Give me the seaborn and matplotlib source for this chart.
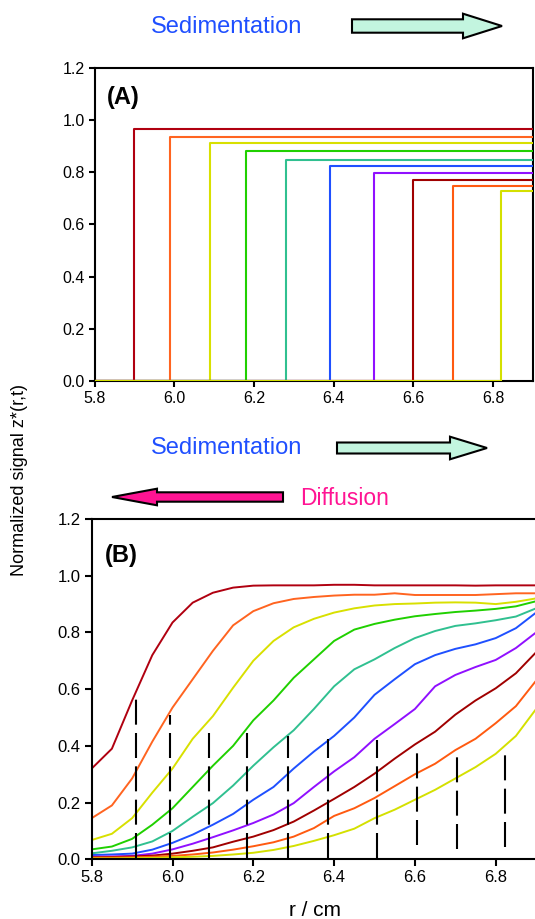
import numpy as np
import pandas as pd
import matplotlib
matplotlib.use("Agg")
import matplotlib.pyplot as plt
import seaborn as sns
from matplotlib.patches import Polygon

# ---------------- data ----------------
runs = ["t1", "t2", "t3", "t4", "t5", "t6", "t7", "t8", "t9", "t10"]
colors = ["#b00010", "#ff6420", "#d8e000", "#20d000", "#30c090",
          "#1f50ff", "#9010ff", "#a00000", "#ff5a10", "#d4e000"]

# Panel A: ideal sharp boundaries
boundaries = [5.90, 5.99, 6.09, 6.18, 6.28, 6.39, 6.50, 6.60, 6.70, 6.82]
plateaus = [0.966, 0.936, 0.912, 0.881, 0.849, 0.826, 0.796, 0.772, 0.749, 0.728]
r_min, r_max = 5.8, 6.9

# Panel B: diffusing boundaries
r_grid = [5.80, 5.85, 5.90, 5.95, 6.00, 6.05, 6.10, 6.15, 6.20, 6.25, 6.30, 6.35,
          6.40, 6.45, 6.50, 6.55, 6.60, 6.65, 6.70, 6.75, 6.80, 6.85, 6.90]
curve_1 = [0.32, 0.39, 0.56, 0.72, 0.835, 0.905, 0.94, 0.958, 0.965, 0.966, 0.966, 0.966,
           0.968, 0.968, 0.966, 0.966, 0.966, 0.966, 0.966, 0.965, 0.966, 0.966, 0.966]
curve_2 = [0.145, 0.19, 0.285, 0.415, 0.535, 0.635, 0.735, 0.825, 0.875, 0.903, 0.918, 0.925,
           0.930, 0.933, 0.933, 0.938, 0.932, 0.932, 0.932, 0.932, 0.935, 0.938, 0.938]
curve_3 = [0.068, 0.09, 0.145, 0.235, 0.32, 0.425, 0.505, 0.605, 0.70, 0.77, 0.818, 0.848,
           0.87, 0.885, 0.895, 0.90, 0.902, 0.905, 0.906, 0.905, 0.90, 0.908, 0.92]
curve_4 = [0.035, 0.045, 0.072, 0.122, 0.18, 0.255, 0.33, 0.40, 0.49, 0.56, 0.64, 0.705,
           0.77, 0.81, 0.83, 0.845, 0.857, 0.865, 0.872, 0.877, 0.883, 0.892, 0.91]
curve_5 = [0.021, 0.03, 0.042, 0.063, 0.10, 0.15, 0.198, 0.26, 0.33, 0.395, 0.455, 0.53,
           0.61, 0.67, 0.705, 0.745, 0.78, 0.805, 0.823, 0.832, 0.843, 0.856, 0.885]
curve_6 = [0.015, 0.017, 0.02, 0.034, 0.058, 0.087, 0.122, 0.16, 0.21, 0.255, 0.32, 0.38,
           0.435, 0.50, 0.58, 0.635, 0.688, 0.72, 0.742, 0.758, 0.78, 0.815, 0.87]
curve_7 = [0.009, 0.01, 0.012, 0.02, 0.035, 0.055, 0.078, 0.102, 0.128, 0.158, 0.198, 0.255,
           0.31, 0.36, 0.425, 0.477, 0.53, 0.61, 0.65, 0.678, 0.703, 0.745, 0.80]
curve_8 = [0.007, 0.008, 0.01, 0.013, 0.02, 0.03, 0.042, 0.062, 0.08, 0.103, 0.133, 0.172,
           0.213, 0.255, 0.302, 0.355, 0.405, 0.45, 0.51, 0.56, 0.603, 0.656, 0.73]
curve_9 = [0.006, 0.006, 0.007, 0.009, 0.012, 0.017, 0.024, 0.034, 0.046, 0.06, 0.08, 0.11,
           0.153, 0.18, 0.216, 0.258, 0.30, 0.337, 0.385, 0.425, 0.48, 0.54, 0.63]
curve_10 = [0.003, 0.003, 0.004, 0.005, 0.007, 0.009, 0.012, 0.017, 0.023, 0.033, 0.047, 0.065,
            0.085, 0.108, 0.145, 0.175, 0.21, 0.245, 0.285, 0.325, 0.372, 0.435, 0.53]
curves = [curve_1, curve_2, curve_3, curve_4, curve_5,
          curve_6, curve_7, curve_8, curve_9, curve_10]

# dashed boundary markers in panel B
dash_pos = [5.91, 5.995, 6.09, 6.185, 6.285, 6.385, 6.505, 6.605, 6.705, 6.822]
dash_top = [0.57, 0.51, 0.47, 0.448, 0.435, 0.424, 0.42, 0.40, 0.386, 0.39]
dash_bottom = [0.005, 0.005, 0.005, 0.005, 0.005, 0.005, 0.005, 0.05, 0.036, 0.045]

x_ticks = [5.8, 6.0, 6.2, 6.4, 6.6, 6.8]
x_labels = ["5.8", "6.0", "6.2", "6.4", "6.6", "6.8"]
y_ticks = [0.0, 0.2, 0.4, 0.6, 0.8, 1.0, 1.2]
y_labels = ["0.0", "0.2", "0.4", "0.6", "0.8", "1.0", "1.2"]

# ---------------- tables ----------------
rows_a = []
for run, b, h in zip(runs, boundaries, plateaus):
    for rr, zz in [(r_min, 0.0), (b, 0.0), (b, h), (r_max, h)]:
        rows_a.append({"run": run, "r": rr, "z": zz})
df_a = pd.DataFrame(rows_a)

rows_b = []
for run, c in zip(runs, curves):
    for rr, zz in zip(r_grid, c):
        rows_b.append({"run": run, "r": rr, "z": zz})
df_b = pd.DataFrame(rows_b)

# ---------------- figure ----------------
sns.set_style("ticks")
plt.rcParams["font.family"] = ["Liberation Sans", "DejaVu Sans"]
plt.rcParams["axes.linewidth"] = 1.5
plt.rcParams["text.color"] = "black"
plt.rcParams["axes.labelcolor"] = "black"
plt.rcParams["xtick.color"] = "black"
plt.rcParams["ytick.color"] = "black"

W, H = 535, 919
fig = plt.figure(figsize=(W / 100, H / 100), dpi=100)


def px_axes(left, top, right, bottom):
    return [left / W, 1 - bottom / H, (right - left) / W, (bottom - top) / H]


ax_a = fig.add_axes(px_axes(94.5, 68, 533, 381))
ax_b = fig.add_axes(px_axes(91.7, 519, 536.1, 859.3))

sns.lineplot(data=df_a, x="r", y="z", hue="run", hue_order=runs, palette=colors,
             sort=False, estimator=None, legend=False, linewidth=1.5, ax=ax_a,
             zorder=3)
sns.lineplot(data=df_b, x="r", y="z", hue="run", hue_order=runs, palette=colors,
             sort=True, estimator=None, legend=False, linewidth=1.4, ax=ax_b)

ax_b.vlines(dash_pos, dash_bottom, dash_top, colors="black", linewidth=1.5,
            linestyles=(0, (12, 4)), zorder=3)

for ax, fs, tl in [(ax_a, 11.5, 4), (ax_b, 12, 5)]:
    ax.set_xlim(r_min, r_max)
    ax.set_ylim(0, 1.2)
    ax.set_xticks(x_ticks)
    ax.set_xticklabels(x_labels)
    ax.set_yticks(y_ticks)
    ax.set_yticklabels(y_labels)
    ax.set_xlabel("")
    ax.set_ylabel("")
    ax.tick_params(direction="out", length=tl, width=1.5, labelsize=fs,
                   colors="black", pad=3)
    for s in ax.spines.values():
        s.set_color("black")
        s.set_linewidth(1.5)

ax_b.spines["right"].set_visible(False)

# panel letters
fig.text(107 / W, 1 - 104 / H, "(A)", fontsize=17, fontweight="bold", ha="left",
         va="baseline", color="black")
fig.text(105 / W, 1 - 561.7 / H, "(B)", fontsize=17, fontweight="bold", ha="left",
         va="baseline", color="black")

# axis labels
fig.text(20 / W, 1 - 480 / H, "Normalized signal z*(r,t)", rotation=90,
         fontsize=13, ha="center", va="center", color="black")
fig.text(315 / W, 1 - 916 / H, "r / cm", fontsize=15, ha="center", va="baseline",
         color="black")

# annotations
blue = "#1f4fff"
pink = "#ff1493"
fig.text(226.7 / W, 1 - 33.3 / H, "Sedimentation", color=blue, fontsize=17,
         ha="center", va="baseline")
fig.text(226.7 / W, 1 - 454 / H, "Sedimentation", color=blue, fontsize=17,
         ha="center", va="baseline")
fig.text(345 / W, 1 - 505.3 / H, "Diffusion", color=pink, fontsize=16.5,
         ha="center", va="baseline")


def block_arrow(x_tail, x_head, x_tip, yc, bh, hh, fc):
    pts = [(x_tail, yc - bh), (x_head, yc - bh), (x_head, yc - hh), (x_tip, yc),
           (x_head, yc + hh), (x_head, yc + bh), (x_tail, yc + bh)]
    pts = [(x / W, 1 - y / H) for x, y in pts]
    fig.add_artist(Polygon(pts, closed=True, transform=fig.transFigure,
                           facecolor=fc, edgecolor="black", linewidth=1.5))


block_arrow(352, 463, 502, 26, 6.7, 12.3, "#c3f5df")
block_arrow(337, 450, 487, 448, 5.5, 11.3, "#c3f5df")
block_arrow(283, 157, 112, 497, 4.7, 8.3, pink)

fig.savefig("out.png", dpi=100)
